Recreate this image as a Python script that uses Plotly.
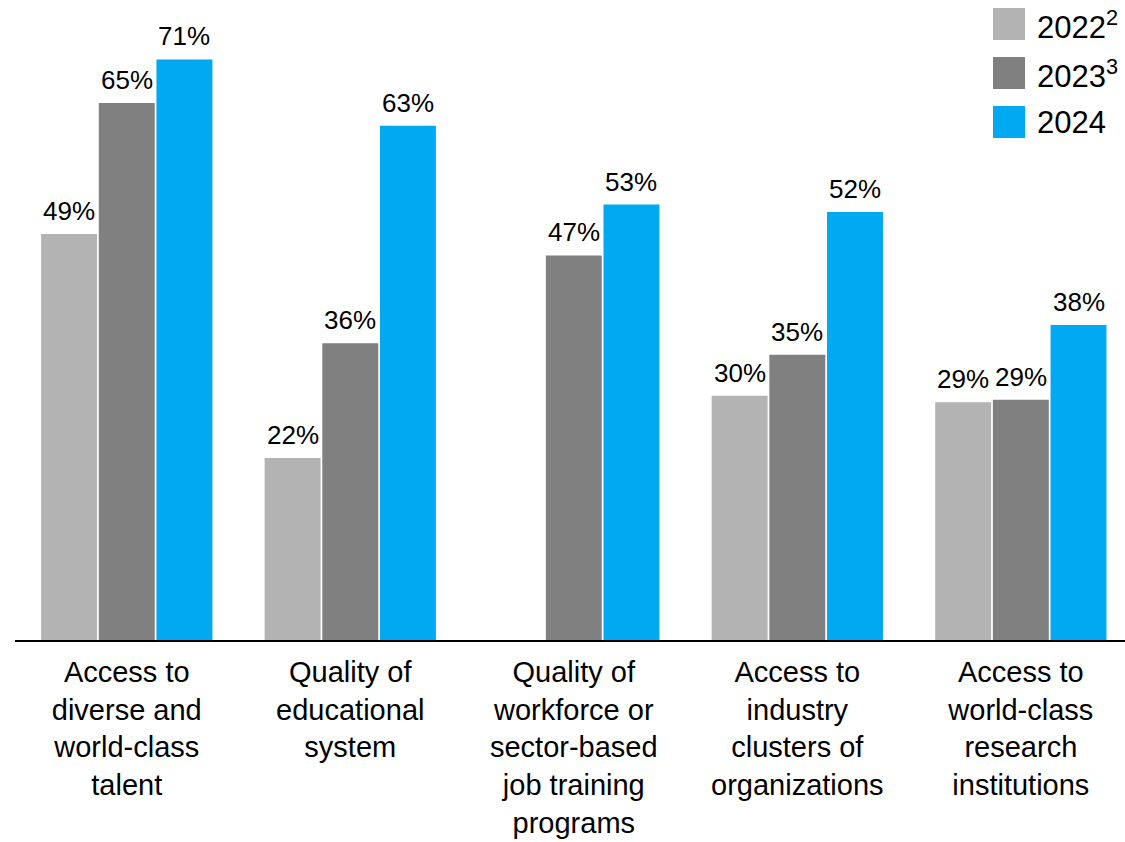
import plotly.graph_objects as go

categories = [
    "Access to<br>diverse and<br>world-class<br>talent",
    "Quality of<br>educational<br>system",
    "Quality of<br>workforce or<br>sector-based<br>job training<br>programs",
    "Access to<br>industry<br>clusters of<br>organizations",
    "Access to<br>world-class<br>research<br>institutions",
]
series_names = ["2022<sup>2</sup>", "2023<sup>3</sup>", "2024"]
v2022 = [49.5, 22.2, None, 29.8, 29.0]
v2023 = [65.5, 36.2, 46.9, 34.8, 29.3]
v2024 = [70.8, 62.7, 53.1, 52.2, 38.4]
t2022 = ["49%", "22%", None, "30%", "29%"]
t2023 = ["65%", "36%", "47%", "35%", "29%"]
t2024 = ["71%", "63%", "53%", "52%", "38%"]
colors = ["#B3B3B3", "#808080", "#00A9F1"]

FONT = "Liberation Sans, Arial, sans-serif"
W, H = 1125, 842
ML, MR, MT, MB = 15, 0, 0, 202
XRANGE = [-0.5, 4.466]
BARGAP, GROUPGAP = 0.226, 0.03

fig = go.Figure()
all_vals = [v2022, v2023, v2024]
all_txt = [t2022, t2023, t2024]
for name, vals, col in zip(series_names, all_vals, colors):
    fig.add_trace(go.Bar(
        x=list(range(len(categories))), y=vals, name=name, marker_color=col,
        marker_line_width=0, showlegend=False,
    ))

# value labels above bars (offset per series within group, computed from axis scale)
pw, ph = W - ML - MR, H - MT - MB
px_per_cat = pw / (XRANGE[1] - XRANGE[0])
slot = px_per_cat * (1 - BARGAP) / 3
for k, (vals, txt) in enumerate(zip(all_vals, all_txt)):
    for i, (v, t) in enumerate(zip(vals, txt)):
        if v is None:
            continue
        fig.add_annotation(x=i, y=v, xref="x", yref="y", text=t, showarrow=False,
                           xanchor="center", yanchor="bottom",
                           xshift=(k - 1) * slot, yshift=6,
                           font=dict(family=FONT, size=26, color="black"))

# manual legend (large squares)
def px_x(x):
    return (x - ML) / pw
def px_y(y):
    return 1 - (y - MT) / ph

for i, (name, col) in enumerate(zip(series_names, colors)):
    top = 8 + 49 * i
    fig.add_shape(type="rect", xref="paper", yref="paper",
                  x0=px_x(993), x1=px_x(1025), y0=px_y(top), y1=px_y(top + 32),
                  fillcolor=col, line_width=0)
    fig.add_annotation(xref="paper", yref="paper", x=px_x(1035), y=px_y(top + 17),
                       xanchor="left", yanchor="middle", text=name, showarrow=False,
                       font=dict(family=FONT, size=31, color="black"))

fig.update_layout(
    width=W, height=H,
    margin=dict(l=ML, r=MR, t=MT, b=MB),
    plot_bgcolor="white", paper_bgcolor="white",
    barmode="group", bargap=BARGAP, bargroupgap=GROUPGAP,
    showlegend=False,
    font=dict(family=FONT, color="black"),
    xaxis=dict(
        tickmode="array", tickvals=list(range(len(categories))), ticktext=categories,
        range=XRANGE, showline=True, linecolor="black", linewidth=2,
        ticks="", showgrid=False, zeroline=False, ticklabelstandoff=5,
        tickfont=dict(family=FONT, size=29, color="black"),
    ),
    yaxis=dict(range=[0, 78.05], visible=False, showgrid=False, zeroline=False),
)

fig.write_html("out.html")
